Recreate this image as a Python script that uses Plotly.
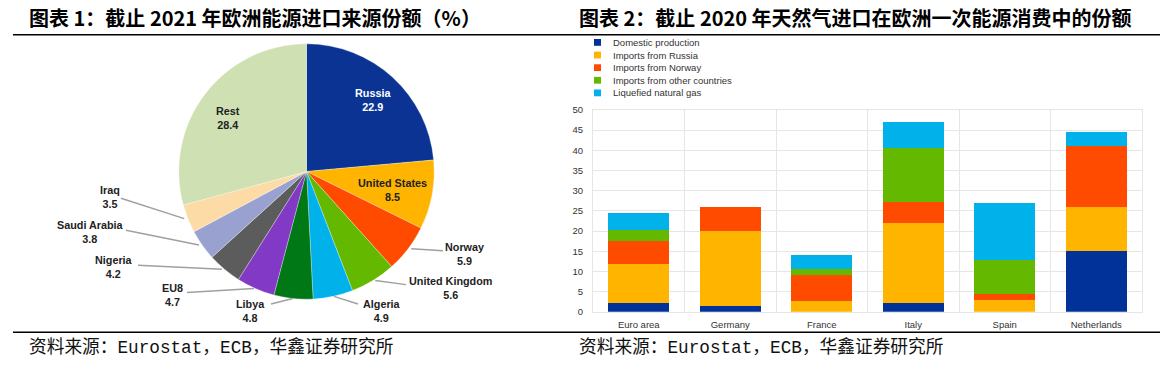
import math
import plotly.graph_objects as go

# ---------------- data ----------------
pie_labels = ["Russia", "United States", "Norway", "United Kingdom", "Algeria",
              "Libya", "EU8", "Nigeria", "Saudi Arabia", "Iraq", "Rest"]
pie_values = [22.9, 8.5, 5.9, 5.6, 4.9, 4.8, 4.7, 4.2, 3.8, 3.5, 28.4]

countries = ["Euro area", "Germany", "France", "Italy", "Spain", "Netherlands"]
domestic = [2.3, 1.4, 0.0, 2.3, 0.0, 15.0]
russia = [9.6, 18.6, 2.8, 19.7, 2.9, 10.9]
norway = [5.7, 5.9, 6.4, 5.1, 1.5, 15.2]
other = [2.8, 0.0, 1.4, 13.5, 8.4, 0.0]
lng = [4.2, 0.0, 3.5, 6.4, 14.2, 3.4]
series_names = ["Domestic production", "Imports from Russia", "Imports from Norway",
                "Imports from other countries", "Liquefied natural gas"]
y_ticks = [0, 5, 10, 15, 20, 25, 30, 35, 40, 45, 50]

title1 = "图表 1：截止 2021 年欧洲能源进口来源份额（%）"
title2 = "图表 2：截止 2020 年天然气进口在欧洲一次能源消费中的份额"
source = "资料来源：Eurostat，ECB，华鑫证券研究所"

# ---------------- styles / layout ----------------
W, H = 1172, 377
def px(x): return x / W
def py(y): return 1 - y / H

pie_colors = ["#0b3394", "#ffb400", "#ff4b00", "#65b800", "#00b1ea", "#007816",
              "#8139c6", "#5c5c5c", "#98a1d0", "#fddba6", "#cfe0b2"]
bar_colors = ["#003299", "#ffb400", "#ff4b00", "#65b800", "#00b1ea"]

PIE_CX, PIE_CY, PIE_R = 306.5, 170.5, 131.5
# label placement (text centre, start of leader line or None, text colour)
label_pos = {
    "Russia": ((373, 97), None, "white"),
    "United States": ((392, 190), None, "#222"),
    "Rest": ((228, 115), None, "#222"),
    "Norway": ((464, 255), (443, 252), "#222"),
    "United Kingdom": ((450, 290), (406, 287), "#222"),
    "Algeria": ((382, 314), (358, 307), "#222"),
    "Libya": ((250, 314), (271, 307), "#222"),
    "EU8": ((172, 298), (187, 295), "#222"),
    "Nigeria": ((114, 269), (138, 267), "#222"),
    "Saudi Arabia": ((90, 233), (126, 231), "#222"),
    "Iraq": ((110, 197), (121, 198), "#222"),
}

fig = go.Figure()

fig.add_trace(go.Pie(
    labels=pie_labels, values=pie_values, sort=False, direction="clockwise",
    rotation=0, marker=dict(colors=pie_colors, line=dict(width=0.5, color="rgba(255,255,255,0.6)")),
    textinfo="none", hoverinfo="label+value", showlegend=False,
    domain=dict(x=[px(PIE_CX - PIE_R), px(PIE_CX + PIE_R)],
                y=[py(PIE_CY + PIE_R), py(PIE_CY - PIE_R)]),
))

xs = list(range(len(countries)))
for name, vals, col in zip(series_names, [domestic, russia, norway, other, lng], bar_colors):
    fig.add_trace(go.Bar(x=xs, y=vals, name=name, marker=dict(color=col, line=dict(width=0)),
                         width=0.667, showlegend=False))

annotations = []
shapes = []

# pie labels + leader lines
total = sum(pie_values)
cum = 0.0
for lab, val in zip(pie_labels, pie_values):
    mid = (cum + val / 2) / total
    cum += val
    theta = 2 * math.pi * mid
    ex = PIE_CX + PIE_R * math.sin(theta)
    ey = PIE_CY - PIE_R * math.cos(theta)
    (tx, ty), start, col = label_pos[lab]
    annotations.append(dict(
        x=px(tx), y=py(ty), xref="paper", yref="paper", showarrow=False,
        text=f"<b>{lab}</b><br><b>{val:.1f}</b>", align="center",
        font=dict(family="Liberation Sans, Arial", size=10.8, color=col),
        xanchor="center", yanchor="middle"))
    if start is not None:
        shapes.append(dict(type="line", xref="paper", yref="paper",
                           x0=px(start[0]), y0=py(start[1]), x1=px(ex), y1=py(ey),
                           line=dict(color="#a0a0a0", width=1.5)))

# manual legend for bars
for i, (name, col) in enumerate(zip(series_names, bar_colors)):
    yc = 37.5 + 13 * i
    shapes.append(dict(type="rect", xref="paper", yref="paper",
                       x0=px(594), x1=px(601), y0=py(yc + 3.5), y1=py(yc - 3.5),
                       fillcolor=col, line=dict(width=0)))
    annotations.append(dict(x=px(611), y=py(yc), xref="paper", yref="paper",
                            showarrow=False, text=name, xanchor="left", yanchor="middle",
                            font=dict(family="Liberation Sans, Arial", size=9.5, color="#333")))

# titles
for t, x in [(title1, 27), (title2, 577)]:
    annotations.append(dict(x=px(x), y=py(12), xref="paper", yref="paper", showarrow=False,
                            text=f"<b>{t}</b>", xanchor="left", yanchor="middle",
                            font=dict(family="Noto Sans CJK SC", size=20, color="#000")))
# sources
for x in [27, 577]:
    annotations.append(dict(x=px(x), y=py(352), xref="paper", yref="paper", showarrow=False,
                            text=source, xanchor="left", yanchor="middle",
                            font=dict(family="Liberation Mono, Noto Sans CJK SC", size=17.7, color="#111")))

# rules
for yy in [29.5, 336]:
    shapes.append(dict(type="line", xref="paper", yref="paper", x0=px(13), x1=px(1160),
                       y0=py(yy), y1=py(yy), line=dict(color="#000", width=1.5)))

fig.update_layout(
    width=W, height=H, margin=dict(l=0, r=0, t=0, b=0, pad=0),
    paper_bgcolor="white", plot_bgcolor="white", barmode="stack",
    bargap=0, annotations=annotations, shapes=shapes,
    xaxis=dict(domain=[px(593), px(1142)], range=[-0.5, 5.5], tickvals=xs, ticktext=countries,
               showgrid=False, zeroline=False, ticks="", ticklabelstandoff=4,
               tickfont=dict(family="Liberation Sans, Arial", size=9.5, color="#333"),
               minor=dict(tick0=-0.5, dtick=1, showgrid=True, gridcolor="#e6e6e6", gridwidth=1),
               showline=True, mirror=True, linecolor="#e6e6e6", linewidth=1, fixedrange=True),
    yaxis=dict(domain=[py(315), py(107)], range=[0, 50], tickvals=y_ticks,
               showgrid=True, gridcolor="#e6e6e6", gridwidth=1, zeroline=False, ticks="",
               ticklabelstandoff=7,
               tickfont=dict(family="Liberation Sans, Arial", size=9.5, color="#333"),
               showline=True, mirror=True, linecolor="#e6e6e6", linewidth=1, fixedrange=True),
)

fig.write_html("out.html", config={"displayModeBar": False},
               post_script="document.body.style.margin='0';document.body.style.overflow='hidden';")
